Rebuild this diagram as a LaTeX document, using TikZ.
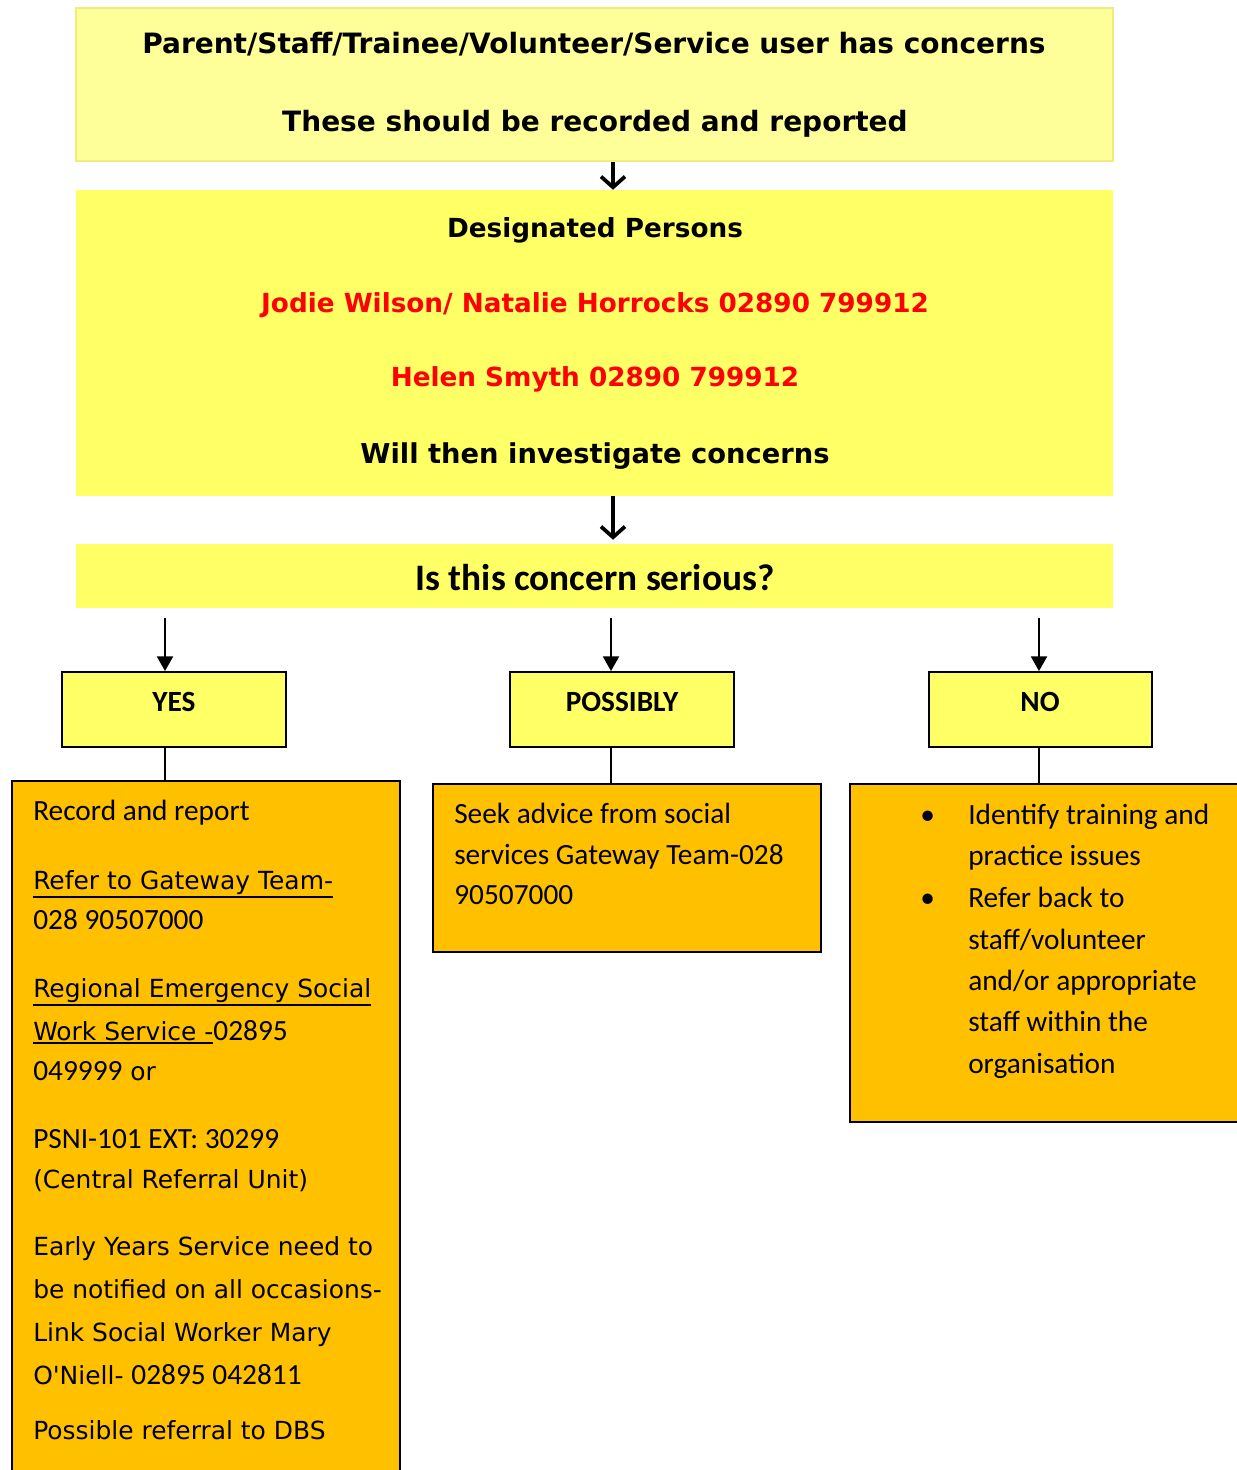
\documentclass[tikz,border=0pt]{standalone}
\usepackage{fontspec}
\setmainfont{Carlito}
\newfontfamily\comicfont{DejaVu Sans}
\usetikzlibrary{arrows.meta,fit}

\definecolor{paleyellow}{HTML}{FFFF99}
\definecolor{boxyellow}{HTML}{FFFF66}
\definecolor{amber}{HTML}{FFC000}
\definecolor{edgeyellow}{HTML}{EEEE80}

\newcommand{\topfont}{\comicfont\bfseries\fontsize{21}{25}\selectfont}
\newcommand{\headfont}{\comicfont\bfseries\fontsize{19.7}{23}\selectfont}
\newcommand{\bigheadfont}{\comicfont\bfseries\fontsize{20.5}{25}\selectfont}
\newcommand{\qfont}{\normalfont\bfseries\fontsize{28}{32}\selectfont}
\newcommand{\ansfont}{\normalfont\bfseries\fontsize{22}{26}\selectfont}
\newcommand{\bodyfont}{\normalfont\fontsize{22}{26}\selectfont}
\newcommand{\cbody}{\comicfont\fontsize{18.7}{23}\selectfont}
\newcommand{\undl}[1]{\vtop{\hbox{#1}\kern1.2pt\hrule height 1.6pt}}

\begin{document}
\begin{tikzpicture}[x=0.75pt,y=0.75pt,yscale=-1,xscale=1,
  lightbox/.style={fill=paleyellow, draw=edgeyellow, line width=0.8pt, inner sep=0},
  fillbox/.style={fill=boxyellow, inner sep=0},
  answer/.style={fill=boxyellow, draw=black, line width=1.4pt, inner sep=0},
  actionbox/.style={fill=amber, draw=black, line width=1.6pt, inner sep=0},
  barb/.style={line width=2.8pt, -{Straight Barb[length=8pt,width=18pt]}},
  tri/.style={line width=1.4pt, -{Triangle[length=11pt,width=12pt]}},
  joiner/.style={line width=1.4pt},
  txt/.style={inner sep=0, anchor=base},
  ltxt/.style={inner sep=0, anchor=base west}]
\useasboundingbox (0,0) rectangle (1237,1470);
\clip (0,0) rectangle (1237,1470);

%Shape: Rectangle [concerns]
\node[lightbox, fit={(76,8) (1113,161)}] (concern) {};
%Shape: Rectangle [designated persons]
\node[fillbox, fit={(76,190) (1113,496)}] (desig) {};
%Shape: Rectangle [question]
\node[fillbox, fit={(76,544) (1113,608)}] (question) {};
%Shape: Rectangle [answers]
\node[answer, fit={(62,672) (286,747)}] (yes) {};
\node[answer, fit={(510,672) (734,747)}] (possibly) {};
\node[answer, fit={(929,672) (1152,747)}] (no) {};
%Shape: Rectangle [actions]
\node[actionbox, fit={(12,781) (400,1490)}] (yesact) {};
\node[actionbox, fit={(433,784) (821,952)}] (posact) {};
\node[actionbox, fit={(850,784) (1260,1122)}] (noact) {};

%columns of the connectors
\coordinate (cmain) at (613,0);
\coordinate (cyes) at (165,0);
\coordinate (cpos) at (611,0);
\coordinate (cno) at (1039,0);

%Arrows
\draw[barb] (concern.south -| cmain) -- (desig.north -| cmain);
\draw[barb] (desig.south -| cmain) -- ([yshift=-3pt]question.north -| cmain);
\draw[tri] ([yshift=7pt]question.south -| cyes) -- (yes.north -| cyes);
\draw[tri] ([yshift=7pt]question.south -| cpos) -- (possibly.north -| cpos);
\draw[tri] ([yshift=7pt]question.south -| cno) -- (no.north -| cno);
\draw[joiner] (yes.south -| cyes) -- (yesact.north -| cyes);
\draw[joiner] (possibly.south -| cpos) -- (posact.north -| cpos);
\draw[joiner] (no.south -| cno) -- (noact.north -| cno);

% Text Node
\node[txt, font=\topfont] (t1) at (594,54) {Parent/Staff/Trainee/Volunteer/Service user has concerns};
\node[txt, font=\topfont] (t2) at (595,131) {These should be recorded and reported};
% Text Node
\node[txt, font=\headfont] (d1) at (595,237) {Designated Persons};
\node[txt, font=\headfont, text=red] (d2) at (595,312) {Jodie Wilson/ Natalie Horrocks 02890 799912};
\node[txt, font=\headfont, text=red] (d3) at (595,386) {Helen Smyth 02890 799912};
\node[txt, font=\bigheadfont] (d4) at (595,463) {Will then investigate concerns};
% Text Node
\node[txt, font=\qfont] (q1) at (595,590) {Is this concern serious?};
% Text Node
\node[txt, font=\ansfont] (a1) at (174,711) {YES};
\node[txt, font=\ansfont] (a2) at (622,711) {POSSIBLY};
\node[txt, font=\ansfont] (a3) at (1040,711) {NO};

% Text Node [yes]
\node[ltxt, font=\bodyfont] (y1) at (33,820) {Record and report};
\node[ltxt, font=\cbody] (y2) at (33,889) {\undl{Refer to Gateway Team-}};
\node[ltxt, font=\bodyfont] (y3) at (33,929) {028 90507000};
\node[ltxt, font=\cbody] (y4) at (33,997) {\undl{Regional Emergency Social}};
\node[ltxt, font=\cbody] (y5) at (33,1040) {\undl{Work Service -}{\bodyfont 02895}};
\node[ltxt, font=\cbody] (y6) at (33,1080) {{\bodyfont 049999} or};
\node[ltxt, font=\bodyfont] (y7) at (33,1148) {PSNI-101 EXT: 30299};
\node[ltxt, font=\cbody] (y8) at (33,1188) {(Central Referral Unit)};
\node[ltxt, font=\cbody] (y9) at (33,1255) {Early Years Service need to};
\node[ltxt, font=\cbody] (y10) at (33,1298) {be notified on all occasions-};
\node[ltxt, font=\cbody] (y11) at (33,1341) {Link Social Worker Mary};
\node[ltxt, font=\cbody] (y12) at (33,1384) {O'Niell- {\bodyfont 02895 042811}};
\node[ltxt, font=\cbody] (y13) at (33,1439) {Possible referral to DBS};

% Text Node [possibly]
\node[ltxt, font=\bodyfont] (p1) at (454,823) {Seek advice from social};
\node[ltxt, font=\bodyfont] (p2) at (454,864) {services Gateway Team-028};
\node[ltxt, font=\bodyfont] (p3) at (454,904) {90507000};

% Text Node [no]
\node[ltxt, font=\bodyfont] (b1) at (920,824) {\textbullet};
\node[ltxt, font=\bodyfont] (b2) at (920,907) {\textbullet};
\node[ltxt, font=\bodyfont] (n1) at (968,824) {Identify training and};
\node[ltxt, font=\bodyfont] (n2) at (968,865) {practice issues};
\node[ltxt, font=\bodyfont] (n3) at (968,907) {Refer back to};
\node[ltxt, font=\bodyfont] (n4) at (968,949) {staff/volunteer};
\node[ltxt, font=\bodyfont] (n5) at (968,990) {and/or appropriate};
\node[ltxt, font=\bodyfont] (n6) at (968,1031) {staff within the};
\node[ltxt, font=\bodyfont] (n7) at (968,1073) {organisation};

\end{tikzpicture}
\end{document}
